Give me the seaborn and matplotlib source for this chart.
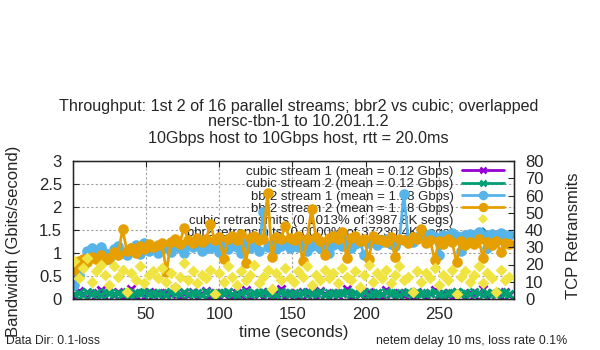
import matplotlib
matplotlib.use("Agg")
import matplotlib.pyplot as plt
import seaborn as sns
import pandas as pd
from matplotlib.lines import Line2D

# Sample times (seconds)
time_s = list(range(1, 300, 3))

# Throughput per stream (Gbits/second)
cubic_stream1 = [
    0.05, 0.18, 0.10, 0.03, 0.14, 0.08, 0.20, 0.04, 0.12, 0.09,
    0.15, 0.03, 0.11, 0.22, 0.06, 0.13, 0.04, 0.16, 0.09, 0.12,
    0.03, 0.14, 0.10, 0.21, 0.05, 0.12, 0.08, 0.15, 0.03, 0.11,
    0.18, 0.06, 0.13, 0.04, 0.10, 0.16, 0.03, 0.12, 0.09, 0.20,
    0.05, 0.14, 0.11, 0.03, 0.15, 0.08, 0.12, 0.22, 0.04, 0.13,
    0.10, 0.03, 0.16, 0.09, 0.12, 0.05, 0.18, 0.11, 0.03, 0.14,
    0.08, 0.12, 0.21, 0.04, 0.13, 0.10, 0.03, 0.15, 0.09, 0.12,
    0.05, 0.19, 0.11, 0.03, 0.14, 0.08, 0.12, 0.04, 0.16, 0.10,
    0.03, 0.13, 0.20, 0.06, 0.12, 0.09, 0.03, 0.15, 0.11, 0.04,
    0.14, 0.08, 0.12, 0.21, 0.03, 0.13, 0.10, 0.05, 0.15, 0.09,
]
cubic_stream2 = [
    0.10, 0.14, 0.09, 0.16, 0.11, 0.13, 0.08, 0.15, 0.12, 0.10,
    0.14, 0.11, 0.16, 0.09, 0.13, 0.12, 0.15, 0.10, 0.14, 0.11,
    0.13, 0.09, 0.16, 0.12, 0.10, 0.15, 0.11, 0.14, 0.12, 0.09,
    0.15, 0.13, 0.10, 0.14, 0.12, 0.16, 0.11, 0.09, 0.13, 0.15,
    0.10, 0.14, 0.12, 0.16, 0.11, 0.13, 0.09, 0.15, 0.12, 0.10,
    0.14, 0.11, 0.13, 0.16, 0.10, 0.12, 0.15, 0.09, 0.14, 0.11,
    0.13, 0.12, 0.16, 0.10, 0.14, 0.11, 0.15, 0.09, 0.13, 0.12,
    0.10, 0.15, 0.12, 0.14, 0.09, 0.13, 0.16, 0.11, 0.12, 0.14,
    0.10, 0.13, 0.15, 0.11, 0.09, 0.14, 0.12, 0.16, 0.10, 0.13,
    0.11, 0.15, 0.12, 0.09, 0.14, 0.13, 0.10, 0.16, 0.12, 0.11,
]
bbr2_stream1 = [
    0.30, 0.52, 0.72, 1.05, 1.10, 0.95, 1.12, 1.00, 0.88, 1.08,
    1.15, 1.02, 0.95, 1.10, 1.18, 0.98, 1.22, 1.05, 1.12, 1.00,
    1.08, 1.15, 1.02, 1.20, 1.10, 1.00, 1.18, 1.12, 1.22, 1.05,
    1.25, 1.10, 1.15, 1.02, 1.20, 1.08, 1.18, 1.12, 1.00, 1.22,
    1.10, 1.18, 1.05, 1.90, 1.12, 1.20, 1.08, 1.15, 1.25, 1.10,
    1.18, 1.12, 1.22, 1.05, 1.15, 1.25, 1.10, 1.20, 1.00, 1.18,
    1.22, 1.15, 1.28, 1.10, 1.20, 1.25, 0.95, 1.22, 1.30, 1.18,
    1.25, 1.30, 1.20, 1.15, 1.28, 2.28, 1.32, 1.25, 1.35, 1.40,
    1.38, 1.42, 1.35, 0.95, 1.40, 1.38, 1.44, 1.36, 1.05, 1.40,
    1.42, 1.38, 1.45, 1.40, 1.10, 1.42, 1.38, 1.44, 1.36, 1.40,
]
bbr2_stream2 = [
    0.62, 0.82, 0.88, 0.80, 0.92, 0.86, 0.95, 0.84, 0.90, 1.02,
    0.96, 1.52, 1.05, 1.10, 1.00, 1.15, 1.08, 1.20, 1.12, 1.18,
    1.22, 0.58, 1.25, 1.30, 1.20, 1.55, 1.28, 1.22, 1.32, 1.25,
    1.30, 1.62, 1.28, 1.35, 0.88, 1.30, 1.38, 1.28, 1.42, 0.78,
    1.32, 1.36, 1.28, 1.30, 2.30, 0.92, 1.35, 1.30, 1.58, 1.32,
    1.28, 1.38, 0.82, 1.30, 1.96, 1.34, 1.26, 0.95, 1.32, 1.36,
    1.30, 1.45, 0.90, 1.32, 1.38, 1.26, 1.30, 0.86, 1.36, 1.30,
    1.28, 1.24, 1.34, 0.92, 1.30, 1.28, 1.22, 1.34, 1.30, 1.52,
    1.22, 1.28, 0.85, 1.26, 1.20, 1.30, 1.24, 0.80, 1.26, 1.18,
    1.25, 1.20, 1.30, 0.90, 1.24, 1.18, 1.26, 1.02, 1.22, 1.20,
]

# TCP retransmits (right axis)
cubic_retrans = [
    22, 12, 18, 24, 10, 16, 20, 14, 8, 19,
    13, 17, 4, 15, 11, 19, 9, 14, 16, 12,
    18, 10, 15, 7, 13, 21, 11, 16, 9, 14,
    12, 17, 3, 15, 10, 19, 13, 8, 16, 11,
    14, 20, 9, 13, 17, 6, 15, 11, 18, 12,
    10, 16, 13, 19, 8, 14, 11, 17, 12, 15,
    9, 18, 13, 11, 16, 7, 14, 20, 10, 15,
    12, 17, 9, 14, 19, 11, 13, 4, 16, 10,
    15, 12, 18, 8, 14, 11, 17, 3, 13, 16,
    10, 14, 19, 9, 15, 12, 4, 17, 11, 13,
]
bbr2_retrans_time = []
bbr2_retrans = []

labels = [
    "cubic stream 1 (mean = 0.12 Gbps)",
    "cubic stream 2 (mean = 0.12 Gbps)",
    "bbr2 stream 1 (mean = 1.18 Gbps)",
    "bbr2 stream 2 (mean = 1.18 Gbps)",
    "cubic retransmits (0.1013% of 3987.8K segs)",
    "bbr2 retransmits (0.0000% of 37230.4K segs)",
]
colors = ["#9400d3", "#009e73", "#56b4e9", "#e69f00", "#f0e442", "#0072b2"]

df = pd.DataFrame({
    "time": time_s,
    "cubic1": cubic_stream1,
    "cubic2": cubic_stream2,
    "bbr1": bbr2_stream1,
    "bbr2": bbr2_stream2,
    "cubic_retrans": cubic_retrans,
})

sns.set_style("ticks")
plt.rcParams["font.family"] = ["Liberation Sans", "DejaVu Sans"]

fig = plt.figure(figsize=(6, 3.5), dpi=100)
ax = fig.add_axes([73 / 600, 51 / 350, 441 / 600, 138 / 350])

series = [("cubic1", "x", 5.5), ("cubic2", "x", 5.5), ("bbr1", "o", 5.6), ("bbr2", "o", 5.6)]
handles = []
for (col, mk, ms), c in zip(series, colors[:4]):
    sns.lineplot(data=df, x="time", y=col, ax=ax, color=c, linewidth=2.0,
                 marker=mk, markersize=ms, markeredgecolor=c, markeredgewidth=2.0,
                 estimator=None, legend=False)
    handles.append(Line2D([], [], color=c, linewidth=2.0, marker=mk, markersize=5,
                          markeredgecolor=c, markeredgewidth=1.8))

ax.set_xlim(0.2, 301.2)
ax.set_ylim(0, 3)
ax.set_xticks([50, 100, 150, 200, 250])
ax.set_yticks([0, 0.5, 1, 1.5, 2, 2.5, 3])
ax.set_yticklabels(["0", "0.5", "1", "1.5", "2", "2.5", "3"])
ax.grid(True, color="#a0a0a0", linestyle=(0, (2, 2)), linewidth=0.8)
ax.set_axisbelow(True)
ax.tick_params(axis="both", direction="in", labelsize=12, length=4, width=0.8)
ax.tick_params(axis="x", top=True, pad=6)
ax.tick_params(axis="y", pad=8)
ax.set_xlabel("time (seconds)", fontsize=12)
ax.set_ylabel("Bandwidth (Gbits/second)", fontsize=12)
ax.xaxis.set_label_coords(0.5, -0.19)
ax.yaxis.set_label_coords(-0.118, 0.42)
for s in ax.spines.values():
    s.set_linewidth(1.0)
    s.set_color("black")

ax2 = ax.twinx()
sns.scatterplot(data=df, x="time", y="cubic_retrans", ax=ax2, color=colors[4],
                marker="D", s=36, linewidth=0, legend=False)
ax2.plot(bbr2_retrans_time, bbr2_retrans, linestyle="none", marker="D",
         markersize=5, color=colors[5])
handles.append(Line2D([], [], linestyle="none", marker="D", markersize=5,
                      color=colors[4], markeredgewidth=0))
handles.append(Line2D([], [], linestyle="none", marker="D", markersize=5,
                      color=colors[5], markeredgewidth=0))
ax2.set_ylim(0, 80)
ax2.set_yticks(range(0, 81, 10))
ax2.tick_params(axis="y", direction="in", labelsize=12, length=4, width=0.8, pad=8)
ax2.set_ylabel("TCP Retransmits", fontsize=12)
ax2.yaxis.set_label_coords(1.118, 0.46)

leg = ax.legend(handles, labels, loc="upper right", bbox_to_anchor=(0.995, 1.022),
                frameon=False, markerfirst=False, fontsize=9.5, labelspacing=0.0,
                handlelength=3.2, handletextpad=0.6, borderaxespad=0.2)
for t in leg.get_texts():
    t.set_ha("right")
leg.set_zorder(1)

fig.text(0.497, 1 - 106 / 350, "Throughput: 1st 2 of 16 parallel streams; bbr2 vs cubic; overlapped",
         ha="center", va="center", fontsize=11.6)
fig.text(0.497, 1 - 122 / 350, "nersc-tbn-1 to 10.201.1.2", ha="center", va="center", fontsize=11.6)
fig.text(0.497, 1 - 139 / 350, "10Gbps host to 10Gbps host, rtt = 20.0ms",
         ha="center", va="center", fontsize=11.6)
fig.text(6 / 600, 1 - 341 / 350, "Data Dir: 0.1-loss", ha="left", va="center", fontsize=8.7)
fig.text(567 / 600, 1 - 341 / 350, "netem delay 10 ms, loss rate 0.1%", ha="right", va="center",
         fontsize=8.9)

fig.savefig("out.png", dpi=100)
